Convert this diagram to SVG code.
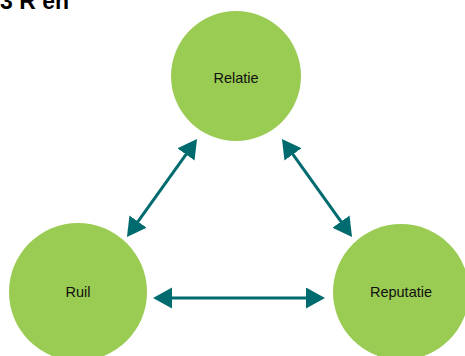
<svg xmlns="http://www.w3.org/2000/svg" width="465" height="356" viewBox="0 0 465 356">
<style>
.node circle{fill:#9ACB52;}
.node text{font-family:"Liberation Sans",Arial,sans-serif;font-size:14.5px;fill:#111;text-anchor:middle;dominant-baseline:central;}
.title{font-family:"Liberation Sans",Arial,sans-serif;font-size:23px;font-weight:bold;fill:#000;}
.conn{stroke:#006B6F;stroke-width:3;fill:none;marker-start:url(#ah);marker-end:url(#ah);}
</style>
<defs>
<marker id="ah" markerUnits="userSpaceOnUse" markerWidth="20" markerHeight="22" refX="10" refY="10.5" orient="auto-start-reverse" viewBox="0 0 20 22">
<path d="M0,0 L19,10.5 L0,21 z" fill="#006B6F"/>
</marker>
</defs>
<rect width="465" height="356" fill="#fff"/>
<text class="title" x="0" y="9">3 R en</text>
<g id="relatie" class="node"><circle cx="236" cy="76" r="65"/><text x="236" y="78">Relatie</text></g>
<g id="ruil" class="node"><circle cx="78" cy="292" r="69"/><text x="78" y="292">Ruil</text></g>
<g id="reputatie" class="node"><circle cx="401" cy="292" r="68"/><text x="401" y="292">Reputatie</text></g>
<g id="connectors">
<path class="conn" d="M191.8,146.3 L132.2,229.7"/>
<path class="conn" d="M287.2,146.3 L346.8,229.7"/>
<path class="conn" d="M162,298 L316,298"/>
</g>
</svg>
